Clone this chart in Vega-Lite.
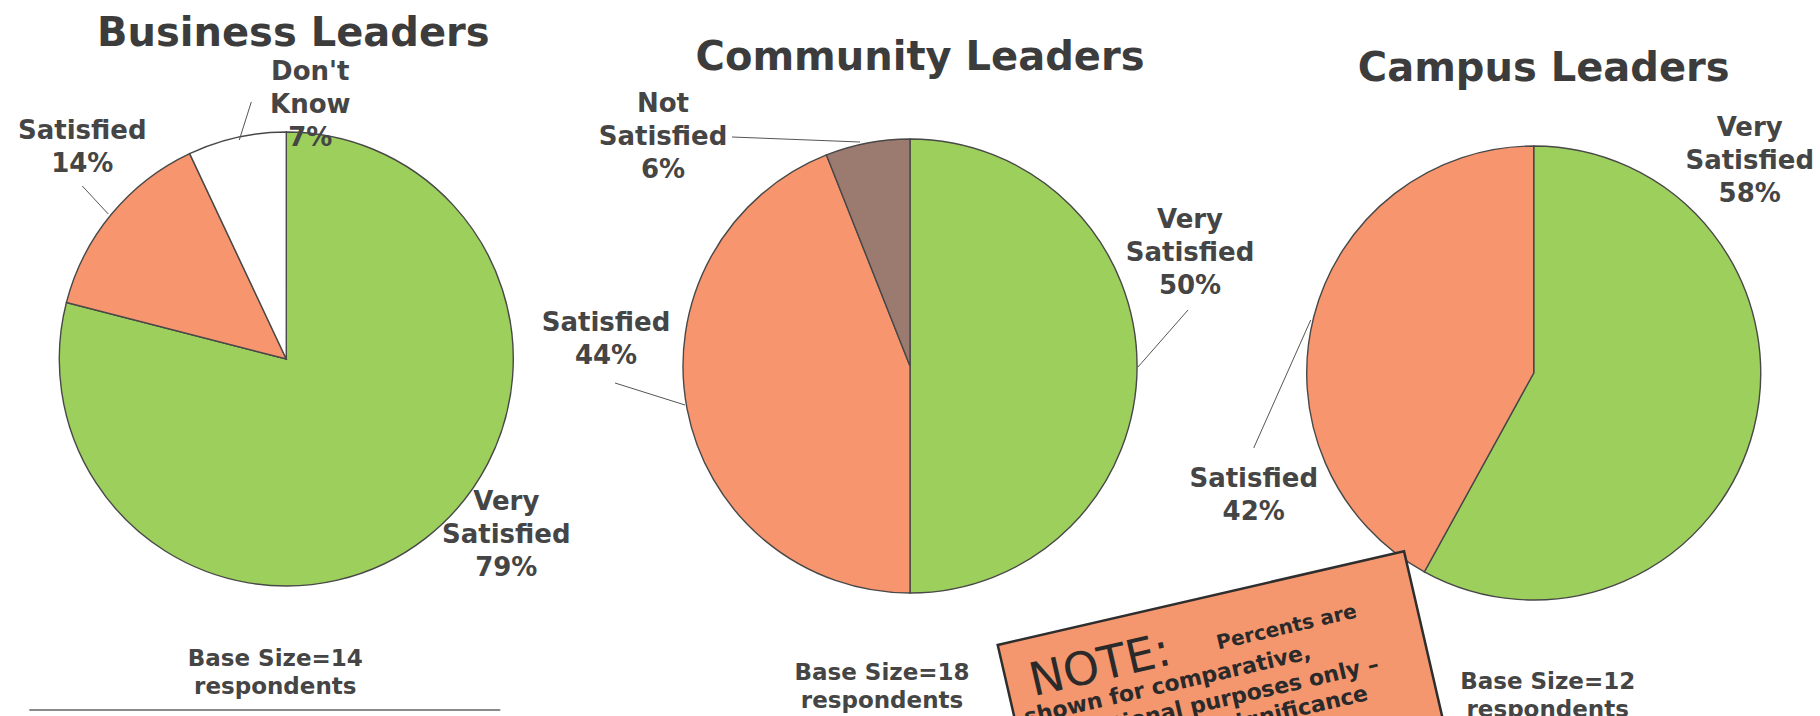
{
  "$schema": "https://vega.github.io/schema/vega-lite/v6.json",
  "width": 1820,
  "height": 716,
  "autosize": {"type": "none"},
  "padding": 0,
  "background": "white",
  "config": {
    "view": {"stroke": null},
    "text": {"font": "DejaVu Sans", "fontWeight": "bold", "fontSize": 26, "fill": "#454545", "lineBreak": "\n", "lineHeight": 33, "baseline": "middle", "align": "center"},
    "rule": {"stroke": "#555555", "strokeWidth": 1}
  },
  "datasets": {
    "slices": [
      {"group": "Business Leaders", "cat": "Very Satisfied", "value": 79, "label": "Very\nSatisfied\n79%"},
      {"group": "Business Leaders", "cat": "Satisfied", "value": 14, "label": "Satisfied\n14%"},
      {"group": "Business Leaders", "cat": "Don't Know", "value": 7, "label": "Don't\nKnow\n7%"},
      {"group": "Community Leaders", "cat": "Very Satisfied", "value": 50, "label": "Very\nSatisfied\n50%"},
      {"group": "Community Leaders", "cat": "Satisfied", "value": 44, "label": "Satisfied\n44%"},
      {"group": "Community Leaders", "cat": "Not Satisfied", "value": 6, "label": "Not\nSatisfied\n6%"},
      {"group": "Campus Leaders", "cat": "Very Satisfied", "value": 58, "label": "Very\nSatisfied\n58%"},
      {"group": "Campus Leaders", "cat": "Satisfied", "value": 42, "label": "Satisfied\n42%"}
    ],
    "panels": [
      {"group": "Business Leaders", "base": "Base Size=14\nrespondents"},
      {"group": "Community Leaders", "base": "Base Size=18\nrespondents"},
      {"group": "Campus Leaders", "base": "Base Size=12\nrespondents"}
    ],
    "note": [
      {"group": "Campus Leaders", "head": "NOTE:", "lead": "Percents are", "l2": "shown for comparative,", "l3": "directional purposes only –", "l4": "statistical significance"}
    ]
  },
  "encoding": {
    "x": {"field": "group", "type": "nominal", "scale": {"type": "point", "domain": ["Business Leaders", "Community Leaders", "Campus Leaders"], "padding": 0.459}, "axis": null},
    "y": {"field": "group", "type": "nominal", "scale": {"type": "point", "domain": ["Business Leaders", "Community Leaders", "Campus Leaders"], "range": [359, 373], "padding": 0}, "axis": null}
  },
  "layer": [
    {
      "data": {"name": "slices"},
      "transform": [{"stack": "value", "groupby": ["group"], "sort": [{"field": "cat", "order": "descending"}], "as": ["v0", "v1"]}],
      "mark": {"type": "arc", "outerRadius": 227, "stroke": "#484848", "strokeWidth": 1.4},
      "encoding": {
        "theta": {"field": "v0", "type": "quantitative", "scale": {"domain": [0, 100]}},
        "theta2": {"field": "v1"},
        "color": {"field": "cat", "type": "nominal", "scale": {"domain": ["Very Satisfied", "Satisfied", "Not Satisfied", "Don't Know"], "range": ["#9dcf5d", "#f7966e", "#9b7a70", "#ffffff"]}, "legend": null}
      }
    },
    {"data": {"name": "panels"}, "transform": [{"filter": "datum.group === 'Business Leaders'"}], "mark": {"type": "rule", "xOffset": -35, "yOffset": -257, "x2Offset": -47, "y2Offset": -219}, "encoding": {"x2": {"field": "group"}, "y2": {"field": "group"}}},
    {"data": {"name": "panels"}, "transform": [{"filter": "datum.group === 'Business Leaders'"}], "mark": {"type": "rule", "xOffset": -204, "yOffset": -173, "x2Offset": -178, "y2Offset": -145}, "encoding": {"x2": {"field": "group"}, "y2": {"field": "group"}}},
    {"data": {"name": "panels"}, "transform": [{"filter": "datum.group === 'Business Leaders'"}], "mark": {"type": "rule", "xOffset": -257, "yOffset": 351, "x2Offset": 214, "y2Offset": 351, "stroke": "#8a8a8a", "strokeWidth": 2}, "encoding": {"x2": {"field": "group"}, "y2": {"field": "group"}}},
    {"data": {"name": "panels"}, "transform": [{"filter": "datum.group === 'Community Leaders'"}], "mark": {"type": "rule", "xOffset": -178, "yOffset": -229, "x2Offset": -50, "y2Offset": -224}, "encoding": {"x2": {"field": "group"}, "y2": {"field": "group"}}},
    {"data": {"name": "panels"}, "transform": [{"filter": "datum.group === 'Community Leaders'"}], "mark": {"type": "rule", "xOffset": 278, "yOffset": -56, "x2Offset": 228, "y2Offset": 1}, "encoding": {"x2": {"field": "group"}, "y2": {"field": "group"}}},
    {"data": {"name": "panels"}, "transform": [{"filter": "datum.group === 'Community Leaders'"}], "mark": {"type": "rule", "xOffset": -295, "yOffset": 17, "x2Offset": -225, "y2Offset": 39}, "encoding": {"x2": {"field": "group"}, "y2": {"field": "group"}}},
    {"data": {"name": "panels"}, "transform": [{"filter": "datum.group === 'Campus Leaders'"}], "mark": {"type": "rule", "xOffset": -280, "yOffset": 75, "x2Offset": -223, "y2Offset": -53}, "encoding": {"x2": {"field": "group"}, "y2": {"field": "group"}}},
    {"data": {"name": "slices"}, "transform": [{"filter": "datum.group === 'Business Leaders' && datum.cat === 'Very Satisfied'"}], "mark": {"type": "text", "dx": 220, "dy": 143}, "encoding": {"text": {"field": "label"}}},
    {"data": {"name": "slices"}, "transform": [{"filter": "datum.group === 'Business Leaders' && datum.cat === 'Satisfied'"}], "mark": {"type": "text", "dx": -204, "dy": -228}, "encoding": {"text": {"field": "label"}}},
    {"data": {"name": "slices"}, "transform": [{"filter": {"field": "cat", "equal": "Don't Know"}}], "mark": {"type": "text", "dx": 24, "dy": -287}, "encoding": {"text": {"field": "label"}}},
    {"data": {"name": "slices"}, "transform": [{"filter": "datum.group === 'Community Leaders' && datum.cat === 'Very Satisfied'"}], "mark": {"type": "text", "dx": 280, "dy": -146}, "encoding": {"text": {"field": "label"}}},
    {"data": {"name": "slices"}, "transform": [{"filter": "datum.group === 'Community Leaders' && datum.cat === 'Satisfied'"}], "mark": {"type": "text", "dx": -304, "dy": -43}, "encoding": {"text": {"field": "label"}}},
    {"data": {"name": "slices"}, "transform": [{"filter": {"field": "cat", "equal": "Not Satisfied"}}], "mark": {"type": "text", "dx": -247, "dy": -262}, "encoding": {"text": {"field": "label"}}},
    {"data": {"name": "slices"}, "transform": [{"filter": "datum.group === 'Campus Leaders' && datum.cat === 'Very Satisfied'"}], "mark": {"type": "text", "dx": 216, "dy": -245}, "encoding": {"text": {"field": "label"}}},
    {"data": {"name": "slices"}, "transform": [{"filter": "datum.group === 'Campus Leaders' && datum.cat === 'Satisfied'"}], "mark": {"type": "text", "dx": -280, "dy": 106}, "encoding": {"text": {"field": "label"}}},
    {"data": {"name": "panels"}, "transform": [{"filter": "datum.group === 'Business Leaders'"}], "mark": {"type": "text", "fontSize": 40, "fill": "#3c3c3c", "baseline": "alphabetic", "dx": 7, "dy": -313}, "encoding": {"text": {"field": "group"}}},
    {"data": {"name": "panels"}, "transform": [{"filter": "datum.group === 'Community Leaders'"}], "mark": {"type": "text", "fontSize": 40, "fill": "#3c3c3c", "baseline": "alphabetic", "dx": 10, "dy": -296}, "encoding": {"text": {"field": "group"}}},
    {"data": {"name": "panels"}, "transform": [{"filter": "datum.group === 'Campus Leaders'"}], "mark": {"type": "text", "fontSize": 40, "fill": "#3c3c3c", "baseline": "alphabetic", "dx": 10, "dy": -292}, "encoding": {"text": {"field": "group"}}},
    {"data": {"name": "panels"}, "transform": [{"filter": "datum.group === 'Business Leaders'"}], "mark": {"type": "text", "fontSize": 23, "lineHeight": 28, "dx": -11, "dy": 300}, "encoding": {"text": {"field": "base"}}},
    {"data": {"name": "panels"}, "transform": [{"filter": "datum.group === 'Community Leaders'"}], "mark": {"type": "text", "fontSize": 23, "lineHeight": 28, "dx": -28, "dy": 307}, "encoding": {"text": {"field": "base"}}},
    {"data": {"name": "panels"}, "transform": [{"filter": "datum.group === 'Campus Leaders'"}], "mark": {"type": "text", "fontSize": 23, "lineHeight": 28, "dx": 14, "dy": 309}, "encoding": {"text": {"field": "base"}}},
    {"data": {"name": "note"}, "mark": {"type": "point", "shape": "M-1,-0.4317L1,-0.4317L1,0.4317L-1,0.4317Z", "size": 173889, "angle": -13, "filled": true, "fill": "#f4976f", "stroke": "#2e2e2e", "strokeWidth": 2.5, "opacity": 1, "xOffset": -312.6, "yOffset": 312.8}},
    {"data": {"name": "note"}, "mark": {"type": "text", "angle": -13, "xOffset": -312.6, "yOffset": 312.8, "dx": -113.5, "dy": -32, "fontSize": 46, "fontWeight": "normal", "fill": "#2a2a2a", "baseline": "alphabetic"}, "encoding": {"text": {"field": "head"}}},
    {"data": {"name": "note"}, "mark": {"type": "text", "angle": -13, "xOffset": -312.6, "yOffset": 312.8, "dx": 77, "dy": -36, "fontSize": 20, "fill": "#2a2a2a", "baseline": "alphabetic"}, "encoding": {"text": {"field": "lead"}}},
    {"data": {"name": "note"}, "mark": {"type": "text", "angle": -13, "xOffset": -312.6, "yOffset": 312.8, "dx": -52, "dy": -6, "fontSize": 22, "fill": "#2a2a2a", "baseline": "alphabetic"}, "encoding": {"text": {"field": "l2"}}},
    {"data": {"name": "note"}, "mark": {"type": "text", "angle": -13, "xOffset": -312.6, "yOffset": 312.8, "dx": -9, "dy": 21, "fontSize": 22, "fill": "#2a2a2a", "baseline": "alphabetic"}, "encoding": {"text": {"field": "l3"}}},
    {"data": {"name": "note"}, "mark": {"type": "text", "angle": -13, "xOffset": -312.6, "yOffset": 312.8, "dx": 2, "dy": 47, "fontSize": 22, "fill": "#2a2a2a", "baseline": "alphabetic"}, "encoding": {"text": {"field": "l4"}}}
  ]
}
